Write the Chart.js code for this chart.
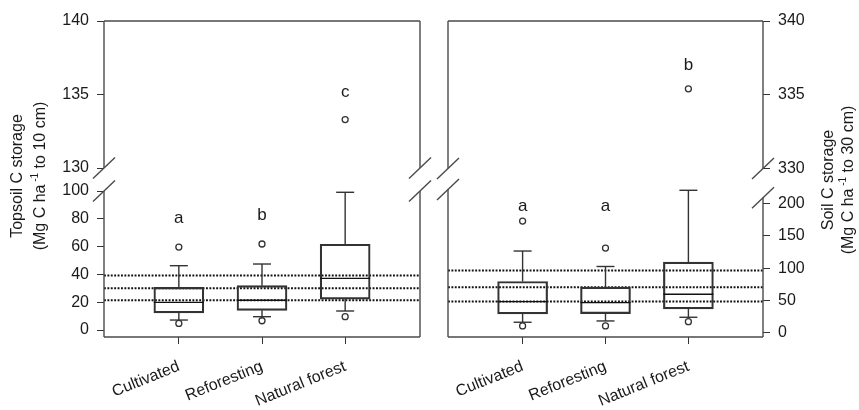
<!DOCTYPE html>
<html>
<head>
<meta charset="utf-8">
<script src="https://cdn.jsdelivr.net/npm/chart.js@4.4.1/dist/chart.umd.min.js"></script>
<style>
  body { margin: 0; background: #fff; width: 859px; height: 410px; overflow: hidden; position: relative; }
  canvas { position: absolute; top: 0; }
</style>
</head>
<body>
<canvas id="topsoil" width="434" height="410" style="left:0"></canvas>
<canvas id="soil" width="425" height="410" style="left:434px"></canvas>
<script>
const categories = ['Cultivated', 'Reforesting', 'Natural forest'];

// topsoil C storage, 0-10 cm
const topQ1 = [12.4, 14.2, 22.3];
const topMedian = [19.9, 21.4, 37.2];
const topQ3 = [30.7, 31.9, 61.7];
const topWhiskerLo = [7.2, 9.6, 13.7];
const topWhiskerHi = [46.3, 47.5, 99.1];
const topOutliers = [[59.7, 4.8], [61.9, 6.7], [133.3, 9.6]];
const topLetters = ['a', 'b', 'c'];
const topLetterAt = [77, 79.1, 134.8];
const topRefLines = [21.4, 30.0, 39.3];
const topTicks = [0, 20, 40, 60, 80, 100, 130, 135, 140];

// soil C storage, 0-30 cm
const soilQ1 = [29.5, 30.0, 37.2];
const soilMedian = [48.5, 47.0, 60.0];
const soilQ3 = [79.6, 70.9, 109.6];
const soilWhiskerLo = [16.6, 18.6, 24.3];
const soilWhiskerHi = [126.7, 102.8, 220.6];
const soilOutliers = [[173, 10.9], [131.3, 10.9], [335.4, 17.5]];
const soilLetters = ['a', 'a', 'b'];
const soilLetterAt = [189, 189, 336.7];
const soilRefLines = [48.5, 70.9, 96.6];
const soilTicks = [0, 50, 100, 150, 200, 330, 335, 340];

const FONT = "'Liberation Sans', Arial, sans-serif";
const INK = '#333';
const TEXT = '#1a1a1a';

function line(ctx, x1, y1, x2, y2) {
  ctx.beginPath();
  ctx.moveTo(x1, y1);
  ctx.lineTo(x2, y2);
  ctx.stroke();
}

function slash(ctx, x, y) {
  line(ctx, x - 11, y + 10.5, x + 11, y - 10.5);
}

function drawTitle(ctx, cx, cy, parts) {
  ctx.save();
  ctx.translate(cx, cy);
  ctx.rotate(-Math.PI / 2);
  ctx.textBaseline = 'middle';
  ctx.textAlign = 'left';
  ctx.fillStyle = TEXT;
  let w = 0;
  parts.forEach(p => { ctx.font = p.size + 'px ' + FONT; w += ctx.measureText(p.t).width; });
  let xx = -w / 2;
  parts.forEach(p => {
    ctx.font = p.size + 'px ' + FONT;
    ctx.fillText(p.t, xx, -(p.rise || 0));
    xx += ctx.measureText(p.t).width;
  });
  ctx.restore();
}

function makePanel(id, p) {
  const extras = {
    id: 'boxExtras',
    afterDatasetsDraw(chart) {
      const { ctx, chartArea: a, scales: { x, y } } = chart;
      const py = v => y.getPixelForValue(p.fwd(v));
      ctx.save();
      ctx.strokeStyle = INK;
      ctx.lineWidth = 1.4;
      categories.forEach((c, i) => {
        const cx = x.getPixelForValue(i + 1);
        line(ctx, cx, py(p.q3[i]), cx, py(p.hi[i]));
        line(ctx, cx - 9, py(p.hi[i]), cx + 9, py(p.hi[i]));
        line(ctx, cx, py(p.q1[i]), cx, py(p.lo[i]));
        line(ctx, cx - 9, py(p.lo[i]), cx + 9, py(p.lo[i]));
        ctx.strokeStyle = '#111';
        line(ctx, cx - 25, py(p.med[i]), cx + 25, py(p.med[i]));
        ctx.strokeStyle = INK;
        ctx.fillStyle = TEXT;
        ctx.font = '17px ' + FONT;
        ctx.textAlign = 'center';
        ctx.textBaseline = 'alphabetic';
        ctx.fillText(p.letters[i], cx, py(p.letterAt[i]));
      });

      // frame with broken sides
      ctx.strokeStyle = '#4a4a4a';
      ctx.lineWidth = 1.4;
      line(ctx, a.left, a.top, a.right, a.top);
      line(ctx, a.left, a.bottom, a.right, a.bottom);
      [['left', a.left], ['right', a.right]].forEach(([side, sx]) => {
        const yt = py(p.breaks[side][0]);
        const yb = py(p.breaks[side][1]);
        line(ctx, sx, a.top, sx, yt);
        line(ctx, sx, yb, sx, a.bottom);
        slash(ctx, sx, yt);
        slash(ctx, sx, yb);
      });

      drawTitle(ctx, p.titleX[0], p.titleY, [{ t: p.title[0], size: 16 }]);
      drawTitle(ctx, p.titleX[1], p.titleY, [
        { t: '(Mg C ha', size: 16 },
        { t: ' -1', size: 10, rise: 6 },
        { t: p.title[1], size: 16 }
      ]);
      ctx.restore();
    }
  };

  const boxes = categories.map((c, i) => ({ x: i + 1, y: [p.fwd(p.q1[i]), p.fwd(p.q3[i])] }));
  const points = [];
  p.outliers.forEach((vals, i) => vals.forEach(v => points.push({ x: i + 1, y: p.fwd(v) })));
  const refs = p.refLines.map(v => ({
    type: 'line',
    data: [{ x: 0.1, y: p.fwd(v) }, { x: 3.9, y: p.fwd(v) }],
    borderColor: '#111',
    borderWidth: 2,
    borderDash: [1.9, 1.5],
    pointRadius: 0,
    order: 3
  }));

  new Chart(document.getElementById(id), {
    type: 'bar',
    data: {
      datasets: [
        {
          type: 'bar',
          data: boxes,
          barThickness: 50,
          backgroundColor: 'rgba(0,0,0,0)',
          borderColor: INK,
          borderWidth: 1.5,
          borderSkipped: false,
          order: 2
        },
        {
          type: 'scatter',
          data: points,
          pointRadius: 3,
          pointBackgroundColor: '#fff',
          pointBorderColor: INK,
          pointBorderWidth: 1.3,
          order: 1
        },
        ...refs
      ]
    },
    options: {
      responsive: false,
      animation: false,
      layout: { padding: p.padding },
      plugins: { legend: { display: false }, tooltip: { enabled: false } },
      scales: {
        x: {
          type: 'linear',
          min: 0.1,
          max: 3.9,
          offset: false,
          afterBuildTicks: s => { s.ticks = [1, 2, 3].map(v => ({ value: v })); },
          afterFit: s => { s.height = 73; },
          ticks: {
            callback: (v, i) => categories[i],
            autoSkip: false,
            minRotation: 22,
            maxRotation: 22,
            padding: 13,
            color: TEXT,
            font: { family: FONT, size: 16 }
          },
          grid: { drawOnChartArea: false, drawTicks: true, tickLength: 7, color: INK, offset: false },
          border: { display: false }
        },
        y: {
          type: 'linear',
          position: p.yPos,
          min: p.yMin,
          max: p.yMax,
          afterBuildTicks: s => { s.ticks = p.ticks.map(v => ({ value: p.fwd(v) })); },
          afterFit: s => { s.width = p.axisWidth; },
          ticks: {
            callback: (v, i) => String(p.ticks[i]),
            autoSkip: false,
            padding: 8,
            color: TEXT,
            font: { family: FONT, size: 16 }
          },
          grid: { drawOnChartArea: false, drawTicks: true, tickLength: 7, color: INK },
          border: { display: false }
        }
      }
    },
    plugins: [extras]
  });
}

makePanel('topsoil', {
  q1: topQ1, med: topMedian, q3: topQ3, lo: topWhiskerLo, hi: topWhiskerHi,
  outliers: topOutliers, letters: topLetters, letterAt: topLetterAt,
  refLines: topRefLines, ticks: topTicks,
  fwd: v => (v < 115 ? v : 116.5 + (v - 130) * 10.58),
  yMin: -5, yMax: 222.3, yPos: 'left',
  padding: { left: 0, right: 14, top: 21, bottom: 0 },
  axisWidth: 104,
  breaks: { left: [130, 100], right: [130, 100] },
  title: ['Topsoil C storage', ' to 10 cm)'],
  titleX: [18, 41], titleY: 176
});

makePanel('soil', {
  q1: soilQ1, med: soilMedian, q3: soilQ3, lo: soilWhiskerLo, hi: soilWhiskerHi,
  outliers: soilOutliers, letters: soilLetters, letterAt: soilLetterAt,
  refLines: soilRefLines, ticks: soilTicks,
  fwd: v => (v < 280 ? v : 254.3 + (v - 330) * 22.8),
  yMin: -6.2, yMax: 482.3, yPos: 'right',
  padding: { left: 14, right: 0, top: 21, bottom: 0 },
  axisWidth: 96,
  breaks: { left: [330, 222], right: [330, 209] },
  title: ['Soil C storage', ' to 30 cm)'],
  titleX: [395, 415], titleY: 180
});
</script>
</body>
</html>
